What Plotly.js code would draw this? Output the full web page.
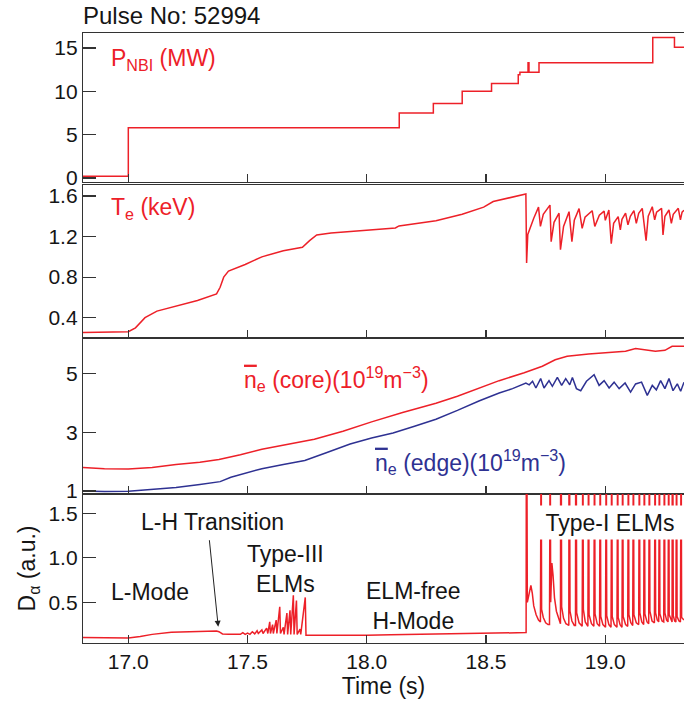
<!DOCTYPE html>
<html><head><meta charset="utf-8">
<script src="https://cdn.plot.ly/plotly-3.0.1.min.js"></script>
<style>body{margin:0;background:#fff}#c{width:684px;height:702px}</style>
</head><body><div id="c"></div>
<script>
// ---- data ----
const pnbiT = [16.81, 17.0, 18.136, 18.279, 18.40, 18.523, 18.635, 18.642, 18.676, 18.680, 18.722, 19.199, 19.29, 19.33];
const pnbiV = [0.2, 5.8, 7.5, 8.6, 10.0, 10.9, 11.9, 12.2, 13.3, 12.2, 13.3, 16.2, 15.1, 15.1];

const teT = [16.81,16.90,17.00,17.03,17.07,17.12,17.20,17.29,17.37,17.385,17.40,17.42,17.49,17.56,17.65,17.73,17.76,17.79,17.85,18.00,18.12,18.135,18.29,18.40,18.49,18.53,18.58,18.667,
  18.670,18.675,18.70,18.72,18.728,18.74,18.768,18.773,18.785,18.806,18.812,18.825,18.848,18.86,18.87,18.89,18.903,18.915,18.945,18.956,18.975,18.995,19.00,19.015,19.025,19.035,19.054,19.063,19.07,19.085,19.095,19.105,19.12,19.13,19.14,19.155,19.171,19.18,19.197,19.207,19.215,19.236,19.242,19.25,19.267,19.277,19.285,19.306,19.315,19.322,19.33];
const teV = [0.255,0.258,0.262,0.30,0.40,0.465,0.515,0.57,0.635,0.70,0.80,0.86,0.925,1.00,1.06,1.095,1.16,1.215,1.235,1.265,1.285,1.305,1.355,1.42,1.49,1.545,1.575,1.62,
  0.94,1.22,1.38,1.49,1.30,1.42,1.51,1.15,1.34,1.43,1.07,1.30,1.445,1.15,1.36,1.475,1.28,1.39,1.455,1.30,1.41,1.45,1.36,1.462,1.13,1.33,1.396,1.265,1.37,1.43,1.315,1.40,1.455,1.33,1.43,1.478,1.16,1.40,1.494,1.365,1.44,1.478,1.215,1.40,1.462,1.33,1.42,1.478,1.365,1.44,1.46];

const coreT = [16.81,16.90,17.00,17.10,17.20,17.30,17.38,17.47,17.56,17.67,17.78,17.90,18.02,18.15,18.29,18.38,18.47,18.555,18.66,18.70,18.736,18.79,18.84,18.93,18.974,19.02,19.085,19.127,19.17,19.21,19.25,19.28,19.33];
const coreV = [1.80,1.76,1.75,1.80,1.90,1.98,2.07,2.23,2.42,2.58,2.76,3.03,3.35,3.67,3.98,4.22,4.48,4.75,5.02,5.15,5.24,5.46,5.58,5.66,5.69,5.72,5.75,5.84,5.80,5.75,5.78,5.92,5.92];

const edgeT = [16.81,16.90,17.00,17.10,17.20,17.30,17.385,17.43,17.50,17.56,17.65,17.74,17.83,17.93,18.02,18.11,18.20,18.29,18.38,18.47,18.555,18.611,18.667,18.681,18.695,18.709,18.729,18.743,18.764,18.778,18.799,18.817,18.834,18.851,18.862,18.879,18.897,18.921,18.953,18.974,18.995,19.016,19.037,19.058,19.083,19.106,19.127,19.152,19.176,19.197,19.214,19.232,19.25,19.267,19.284,19.302,19.316,19.33];
const edgeV = [1.00,0.98,0.99,1.05,1.12,1.22,1.32,1.47,1.62,1.76,1.90,2.04,2.30,2.60,2.80,2.97,3.20,3.44,3.74,4.06,4.33,4.48,4.67,4.61,4.73,4.50,4.82,4.50,4.75,4.56,4.86,4.59,4.82,4.61,4.86,4.48,4.41,4.73,4.95,4.59,4.75,4.50,4.70,4.48,4.67,4.36,4.64,4.70,4.25,4.59,4.44,4.75,4.48,4.82,4.41,4.64,4.39,4.70];

const daT = [16.81,16.90,17.00,17.05,17.10,17.18,17.25,17.30,17.37,17.38,17.395,17.42,17.45,
  17.47,17.48,17.49,17.50,17.51,17.52,17.53,17.54,17.545,17.56,17.565,17.58,17.585,17.593,17.596,17.605,17.608,17.62,17.623,17.635,17.638,17.65,17.653,17.665,17.668,17.678,17.681,17.692,17.695,17.705,17.708,17.72,17.723,17.742,17.745,
  17.80,17.90,18.00,18.10,18.20,18.30,18.40,18.50,18.60,18.668,
  18.669,18.671,18.673,18.680,18.688,18.694,18.700,18.710,18.720,18.728,
  18.729,18.731,18.733,18.740,18.750,18.760,18.766,
  18.767,18.769,18.771,18.776,18.781,18.787,18.795,18.805,18.812,
  18.813,18.815,18.817,18.825,18.835,18.847,
  18.848,18.850,18.852,18.860,18.870,18.875,
  18.876,18.878,18.880,18.890,18.903,
  18.904,18.906,18.908,18.916,18.927,
  18.928,18.930,18.932,18.942,18.952,
  18.953,18.955,18.957,18.966,18.976,
  18.977,18.979,18.981,18.990,19.001,
  19.002,19.004,19.006,19.015,19.024,
  19.025,19.027,19.029,19.038,19.049,
  19.050,19.052,19.054,19.062,19.070,
  19.071,19.073,19.075,19.085,19.094,
  19.095,19.097,19.099,19.107,19.115,
  19.116,19.118,19.120,19.130,19.140,
  19.141,19.143,19.145,19.153,19.161,
  19.162,19.164,19.166,19.175,19.182,
  19.183,19.185,19.187,19.196,19.206,
  19.207,19.209,19.211,19.218,19.224,
  19.225,19.227,19.229,19.238,19.245,
  19.246,19.248,19.250,19.257,19.263,
  19.264,19.266,19.268,19.275,19.280,
  19.281,19.283,19.285,19.291,19.296,
  19.297,19.299,19.301,19.309,19.315,
  19.316,19.318,19.320,19.330];
const daV = [0.105,0.10,0.098,0.115,0.14,0.165,0.172,0.175,0.178,0.17,0.145,0.14,0.145,
  0.14,0.16,0.14,0.155,0.14,0.17,0.145,0.18,0.15,0.19,0.15,0.21,0.15,0.28,0.15,0.25,0.15,0.30,0.15,0.45,0.15,0.22,0.14,0.38,0.14,0.41,0.14,0.58,0.14,0.52,0.14,0.20,0.14,0.555,0.13,
  0.13,0.128,0.13,0.135,0.138,0.142,0.145,0.15,0.155,0.16,
  2.5,2.5,0.50,0.58,0.69,0.60,0.46,0.36,0.30,0.28,
  2.5,2.5,0.42,0.33,0.27,0.25,0.25,
  2.5,2.5,0.50,0.94,0.80,0.55,0.40,0.30,0.26,
  2.5,2.5,0.45,0.32,0.26,0.24,
  2.5,2.5,0.40,0.29,0.24,0.24,
  2.5,2.5,0.38,0.27,0.23,
  2.5,2.5,0.42,0.28,0.23,
  2.5,2.5,0.36,0.26,0.23,
  2.5,2.5,0.37,0.26,0.23,
  2.5,2.5,0.34,0.25,0.22,
  2.5,2.5,0.35,0.25,0.22,
  2.5,2.5,0.34,0.25,0.22,
  2.5,2.5,0.33,0.25,0.22,
  2.5,2.5,0.34,0.25,0.23,
  2.5,2.5,0.36,0.27,0.24,
  2.5,2.5,0.36,0.27,0.25,
  2.5,2.5,0.38,0.28,0.25,
  2.5,2.5,0.37,0.28,0.26,
  2.5,2.5,0.40,0.29,0.27,
  2.5,2.5,0.38,0.30,0.28,
  2.5,2.5,0.37,0.29,0.28,
  2.5,2.5,0.38,0.30,0.28,
  2.5,2.5,0.36,0.30,0.28,
  2.5,2.5,0.35,0.29,0.28,
  2.5,2.5,0.34,0.29,0.28,
  2.5,2.5,0.33,0.30];

const xTickVals = [17.0, 17.5, 18.0, 18.5, 19.0];
const pnbiTicks = [0, 5, 10, 15];
const teTicks = [0.4, 0.8, 1.2, 1.6];
const neTicks = [1, 3, 5];
const daTicks = [0.5, 1.0, 1.5];

// ---- styling ----
const RED = 'rgb(237,32,40)';
const BLUE = 'rgb(46,49,146)';
const AX = '#333';
const INK = '#151515';
const FONT = 'Liberation Sans, Arial, sans-serif';

function xax(anchor, labels) {
  return {anchor: anchor, domain: [0, 1], range: [16.81, 19.33], showline: true, mirror: true,
    linecolor: AX, linewidth: 1.2, ticks: 'inside', ticklen: 8, tickcolor: AX, tickwidth: 1.2,
    tickvals: xTickVals, showticklabels: labels, tickformat: '.1f', showgrid: false, zeroline: false,
    tickfont: {size: 21, color: INK}};
}
function yax(anchor, dom, rng, tv, fmt) {
  return {anchor: anchor, domain: dom, range: rng, showline: true, mirror: false, linecolor: AX, linewidth: 1.2,
    ticks: 'inside', ticklen: 13, tickcolor: AX, tickwidth: 1.2, tickvals: tv, tickformat: fmt,
    showgrid: false, zeroline: false, tickfont: {size: 21, color: INK}};
}

const line = (c) => ({color: c, width: 1.5});
const data = [
  {x: pnbiT, y: pnbiV, xaxis: 'x', yaxis: 'y', mode: 'lines', line: Object.assign(line(RED), {shape: 'hv'})},
  {x: teT, y: teV, xaxis: 'x2', yaxis: 'y2', mode: 'lines', line: line(RED)},
  {x: coreT, y: coreV, xaxis: 'x3', yaxis: 'y3', mode: 'lines', line: line(RED)},
  {x: edgeT, y: edgeV, xaxis: 'x3', yaxis: 'y3', mode: 'lines', line: line(BLUE)},
  {x: daT, y: daV, xaxis: 'x4', yaxis: 'y4', mode: 'lines', line: line(RED)}
];

const x4 = xax('y4', true);
x4.title = {text: 'Time (s)', font: {size: 23, color: INK}, standoff: 4};
const y4 = yax('x4', [0, 0.2443], [0.043, 1.717], daTicks, '.1f');
y4.title = {text: 'D<sub>α</sub> (a.u.)', font: {size: 23, color: INK}, standoff: 6};

const tf = {family: FONT, size: 23, color: INK};
const layout = {
  width: 684, height: 702, showlegend: false,
  margin: {l: 83, r: 0, t: 33, b: 59},
  paper_bgcolor: '#fff', plot_bgcolor: '#fff',
  font: {family: FONT, size: 21, color: INK},
  xaxis: xax('y', false), xaxis2: xax('y2', false), xaxis3: xax('y3', false), xaxis4: x4,
  yaxis: yax('x', [0.7557, 1], [-0.46, 16.73], pnbiTicks, ''),
  yaxis2: yax('x2', [0.5, 0.7508], [0.2, 1.708], teTicks, '.1f'),
  yaxis3: yax('x3', [0.2443, 0.5], [0.9, 6.2], neTicks, ''),
  yaxis4: y4,
  annotations: [
    {xref: 'paper', yref: 'paper', x: 0, y: 1, xanchor: 'left', yanchor: 'bottom', yshift: 2, xshift: -2,
      text: 'Pulse No: 52994', showarrow: false, font: {family: FONT, size: 24, color: INK}},
    {xref: 'paper', yref: 'paper', x: 0.0433, y: 0.957, xanchor: 'left', yanchor: 'middle',
      text: 'P<sub>NBI</sub> (MW)', showarrow: false, font: {family: FONT, size: 23, color: RED}},
    {xref: 'paper', yref: 'paper', x: 0.0433, y: 0.712, xanchor: 'left', yanchor: 'middle',
      text: 'T<sub>e</sub> (keV)', showarrow: false, font: {family: FONT, size: 23, color: RED}},
    {xref: 'paper', yref: 'paper', x: 0.2646, y: 0.432, xanchor: 'left', yanchor: 'middle',
      text: '<span style="text-decoration:overline">n</span><sub>e</sub> (core)(10<sup>19</sup>m<sup>−3</sup>)', showarrow: false, font: {family: FONT, size: 23, color: RED}},
    {xref: 'paper', yref: 'paper', x: 0.4825, y: 0.296, xanchor: 'left', yanchor: 'middle',
      text: '<span style="text-decoration:overline">n</span><sub>e</sub> (edge)(10<sup>19</sup>m<sup>−3</sup>)', showarrow: false, font: {family: FONT, size: 23, color: BLUE}},
    {xref: 'x4', yref: 'y4', x: 17.355, y: 1.399, text: 'L-H Transition', showarrow: false, font: tf},
    {xref: 'x4', yref: 'y4', x: 17.657, y: 0.874, text: 'Type-III<br>ELMs', showarrow: false, font: tf},
    {xref: 'x4', yref: 'y4', x: 17.093, y: 0.619, text: 'L-Mode', showarrow: false, font: tf},
    {xref: 'x4', yref: 'y4', x: 18.194, y: 0.459, text: 'ELM-free<br>H-Mode', showarrow: false, font: tf},
    {xref: 'x4', yref: 'y4', x: 19.020, y: 1.391, text: 'Type-I ELMs', showarrow: false, font: tf,
      bgcolor: '#fff', width: 152, height: 33, borderpad: 0},
    {xref: 'x4', yref: 'y4', x: 17.377, y: 0.226, ax: -9, ay: -88, text: '', showarrow: true,
      arrowhead: 2, arrowsize: 1.2, arrowwidth: 1, arrowcolor: '#222'}
  ]
};

Plotly.newPlot('c', data, layout, {displayModeBar: false, staticPlot: true});
</script></body></html>
